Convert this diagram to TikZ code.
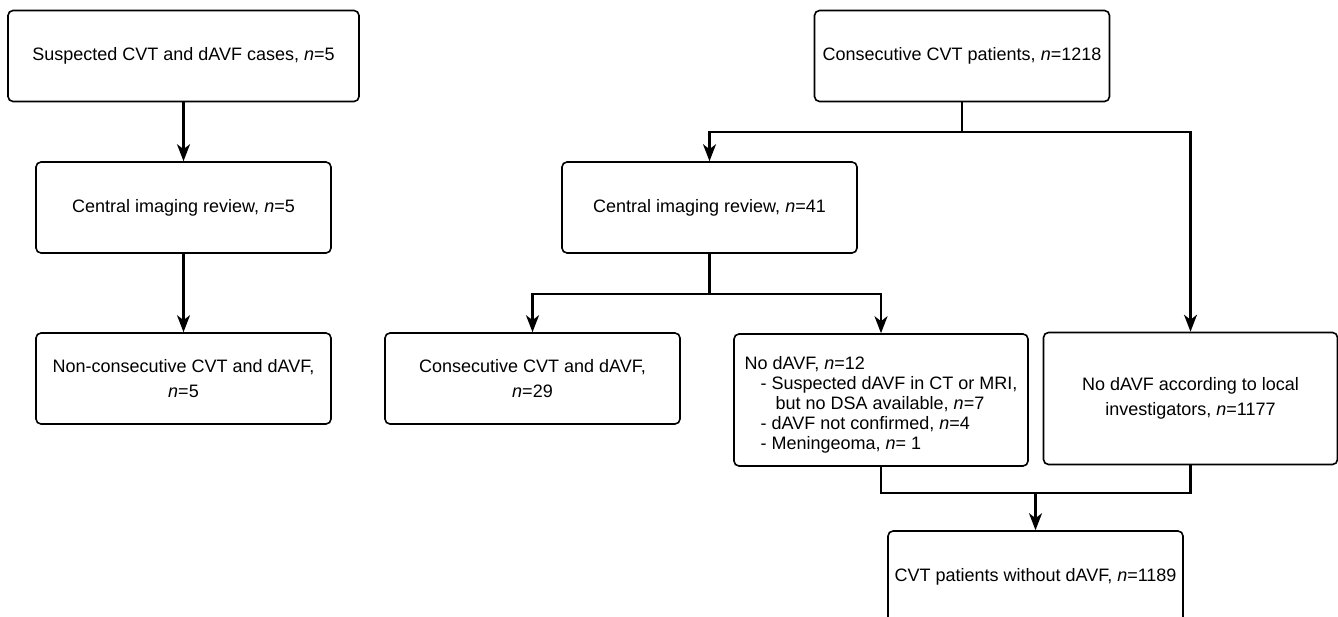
\documentclass[tikz,border=0pt]{standalone}
\usepackage{fontspec}
\setmainfont{Liberation Sans}
\usetikzlibrary{arrows.meta}

\begin{document}
\begin{tikzpicture}
  [x=0.5pt,y=-0.5pt,
   every node/.style={draw,rounded corners=2.5pt,line width=0.8pt,inner sep=2pt,align=center,
     font=\fontsize{9}{11}\selectfont},
   box/.style={minimum width=147.5pt,minimum height=45.5pt},
   tallbox/.style={minimum width=147pt,minimum height=66pt},
   arr/.style={-{Stealth[length=8.5pt,width=6.5pt,inset=2.5pt]}},
   line width=1.1pt]
  \useasboundingbox (0,0) rectangle (1338,616);

  % left column
  \node[box,minimum width=175.5pt] (sus) at (183.5,56) {Suspected CVT and dAVF cases, \textit{n}=5};
  \node[box] (cir5) at (183.5,207.5) {Central imaging review, \textit{n}=5};
  \node[box] (noncons) at (183.5,378.5) {Non-consecutive CVT and dAVF,\\[1.5pt] \textit{n}=5};

  % right part
  \node[box] (cons) at (962,56) {Consecutive CVT patients, \textit{n}=1218};
  \node[box] (cir41) at (709.5,207.5) {Central imaging review, \textit{n}=41};
  \node[box] (consd) at (532.5,378.5) {Consecutive CVT and dAVF,\\[1.5pt] \textit{n}=29};
  \node[tallbox,align=left,font=\fontsize{9}{10}\selectfont] (nodavf) at (881,400) {\rule{0pt}{11pt}No dAVF, \textit{n}=12\\
    \hspace*{8pt}- Suspected dAVF in CT or MRI,\\
    \hspace*{15.5pt}but no DSA available, \textit{n}=7\\
    \hspace*{8pt}- dAVF not confirmed, \textit{n}=4\\
    \hspace*{8pt}- Meningeoma, \textit{n}= 1};
  \node[tallbox] (local) at (1190.5,398.5) {No dAVF according to local\\[1.5pt] investigators, \textit{n}=1177};
  \node[box] (without) at (1035.5,576.5) {CVT patients without dAVF, \textit{n}=1189};

  \coordinate (j1) at (962,132);
  \coordinate (j2) at (709.5,294);
  \coordinate (j3) at (1035.5,493);

  \foreach \from/\to in {sus/cir5,cir5/noncons}
    \draw[arr] (\from) -- (\to);

  \draw (cons) -- (j1);
  \foreach \to in {cir41,local}
    \draw[arr] (j1) -| (\to.north);
  \draw (cir41) -- (j2);
  \foreach \to in {consd,nodavf}
    \draw[arr] (j2) -| (\to.north);
  \foreach \from in {nodavf,local}
    \draw (\from.south) |- (j3);
  \draw[arr] (j3) -- (without);

\end{tikzpicture}
\end{document}
